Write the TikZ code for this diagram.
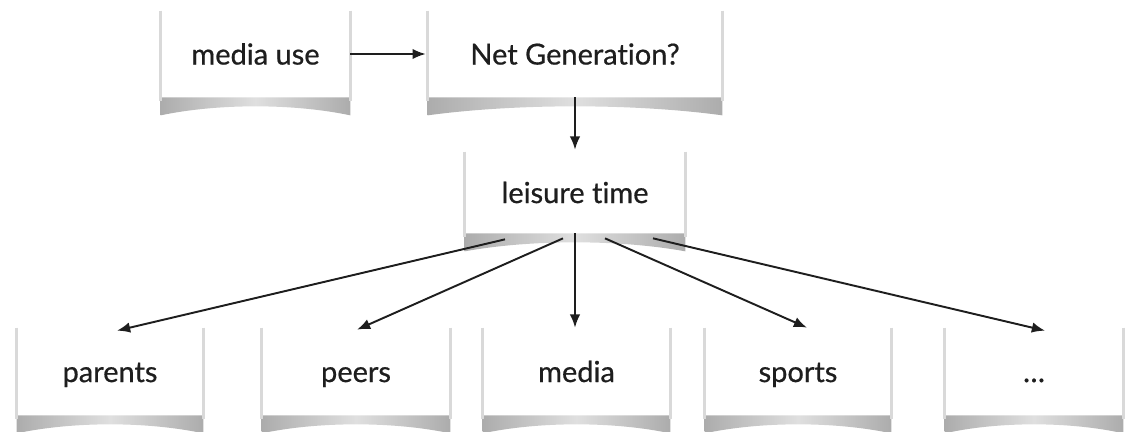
\documentclass[tikz,border=0pt]{standalone}
\usepackage{fontspec}
\setmainfont{Lato}[Ligatures=NoCommon, FakeBold=0.6]
\usetikzlibrary{arrows.meta,calc}

\definecolor{ink}{HTML}{1E1E1E}
\tikzset{
	card/.style={fill=white, inner sep=0pt, text=ink, text height=15pt, text depth=3pt, font=\fontsize{16.5}{19}\selectfont},
	arr/.style={ink, line width=1.1pt, -{Latex[length=7.5pt,width=6pt]}}
}

\begin{document}
\begin{tikzpicture}[x=0.02cm, y=-0.02cm]
		\useasboundingbox (0,0) rectangle (1125,432);
		
		% top row
		\node[card, minimum width=3.78cm, minimum height=1.72cm] (mu) at (255.5,54) {media use};
		\node[card, minimum width=5.88cm, minimum height=1.72cm] (ng) at (575,54) {Net Generation?};
		\node[card, minimum width=4.4cm, minimum height=1.62cm] (lt) at (575,192.5) {leisure time};
		
		% bottom row
		\node[card, minimum width=3.72cm, minimum height=1.74cm] (pa) at (110,371.5) {parents};
		\node[card, minimum width=3.76cm, minimum height=1.74cm] (pe) at (356,371.5) {peers};
		\node[card, minimum width=3.74cm, minimum height=1.74cm] (me) at (576.5,371.5) {media};
		\node[card, minimum width=3.72cm, minimum height=1.74cm] (sp) at (798,371.5) {sports};
		\node[card, minimum width=3.56cm, minimum height=1.74cm] (dt) at (1034,371.5) {\dots};
		
		% curled shadows
		\foreach \n in {mu,ng,lt,pa,pe,me,sp,dt} {
			\shade[left color=gray!65, right color=gray!65, middle color=gray!25]
				(\n.south west) -- (\n.south east) -- ($(\n.south east)+(0,18)$)
				.. controls ($(\n.south east)!.3!(\n.south west)+(0,6)$) and ($(\n.south west)!.3!(\n.south east)+(0,6)$) .. ($(\n.south west)+(0,18)$) -- cycle;
			\draw[gray!30, line width=1.4pt] (\n.north west) -- ($(\n.south west)+(0,4)$);
			\draw[gray!30, line width=1.4pt] (\n.north east) -- ($(\n.south east)+(0,4)$);
		}
		
		\draw[arr] (mu.east) -- ($(ng.west)+(-2,0)$);
		\draw[arr] (ng.south) -- ($(lt.north)+(0,-2)$);
		
		\draw[arr] ($(lt.south)+(-70,6)$) -- ($(pa.north)+(7,3)$);
		\draw[arr] ($(lt.south)+(-12,5)$) -- ($(pe.north)+(1,2)$);
		\draw[arr] (lt.south) -- ($(me.north)+(-1.5,0)$);
		\draw[arr] ($(lt.south)+(30,5)$) -- ($(sp.north)+(9,0)$);
		\draw[arr] ($(lt.south)+(78,5)$) -- ($(dt.north)+(11,3)$);
		\end{tikzpicture}
\end{document}
